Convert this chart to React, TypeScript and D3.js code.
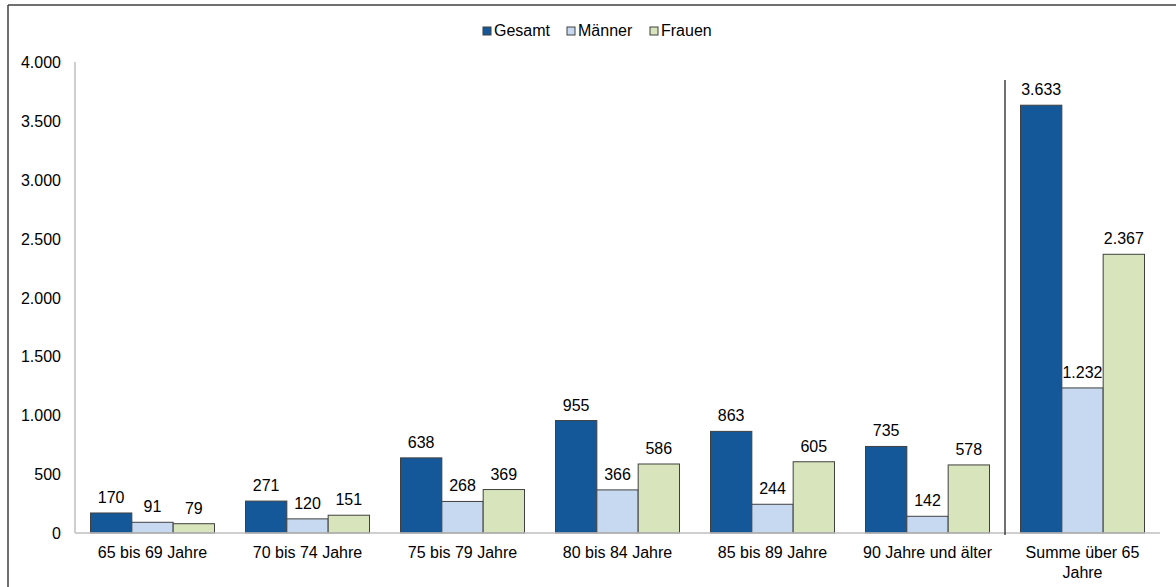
import React from "react";
import * as d3 from "d3";

const categories = [
  ["65 bis 69 Jahre"],
  ["70 bis 74 Jahre"],
  ["75 bis 79 Jahre"],
  ["80 bis 84 Jahre"],
  ["85 bis 89 Jahre"],
  ["90 Jahre und älter"],
  ["Summe über 65", "Jahre"],
];
const seriesNames = ["Gesamt", "Männer", "Frauen"];
const gesamt = [170, 271, 638, 955, 863, 735, 3633];
const maenner = [91, 120, 268, 366, 244, 142, 1232];
const frauen = [79, 151, 369, 586, 605, 578, 2367];
const yTicks = [0, 500, 1000, 1500, 2000, 2500, 3000, 3500, 4000];

const colors = ["#15589A", "#C6D9F0", "#D7E4BC"];
const W = 1176;
const H = 587;
const M = { left: 75, right: 1160, top: 62, bottom: 533 };

const fmt = (v: number) => d3.format(",")(v).replace(/,/g, ".");

export default function App() {
  const series = [gesamt, maenner, frauen];
  const x0 = d3
    .scaleBand<number>()
    .domain(categories.map((_, i) => i))
    .range([M.left, M.right])
    .paddingInner(0.2)
    .paddingOuter(0.1);
  const x1 = d3
    .scaleBand<number>()
    .domain([0, 1, 2])
    .range([0, x0.bandwidth()]);
  const y = d3.scaleLinear().domain([0, 4000]).range([M.bottom, M.top]);
  const font = "Liberation Sans, Arial, sans-serif";
  const fs = 16;
  const sepX = M.left + x0.step() * 6;

  const legendX = [483, 567, 650];

  return (
    <div style={{ position: "fixed", left: 0, top: 0 }}>
      <svg width={W} height={H} style={{ display: "block", background: "#fff" }} fontFamily={font}>
        {/* outer frame */}
        <line x1={8} x2={W} y1={5} y2={5} stroke="#404040" strokeWidth={1.5} />
        <line x1={8} x2={8} y1={5} y2={H} stroke="#404040" strokeWidth={1.5} />

        {/* legend */}
        {seriesNames.map((n, i) => (
          <g key={n}>
            <rect x={legendX[i]} y={27} width={8} height={8} fill={colors[i]} stroke="#404040" strokeWidth={1} />
            <text x={legendX[i] + 11} y={36} fontSize={fs} fill="#000">
              {n}
            </text>
          </g>
        ))}

        {/* y axis */}
        <line x1={M.left} x2={M.left} y1={M.top} y2={M.bottom} stroke="#BFBFBF" strokeWidth={1.5} />
        {yTicks.map((t) => (
          <text key={t} x={61} y={y(t) + 6} fontSize={fs} textAnchor="end" fill="#000">
            {fmt(t)}
          </text>
        ))}

        {/* bars */}
        {categories.map((_, ci) =>
          series.map((s, si) => {
            const bx = (x0(ci) as number) + (x1(si) as number);
            const bw = x1.bandwidth();
            const v = s[ci];
            return (
              <g key={`${ci}-${si}`}>
                <rect
                  x={bx}
                  y={y(v)}
                  width={bw}
                  height={M.bottom - y(v)}
                  fill={colors[si]}
                  stroke="#404040"
                  strokeWidth={1}
                />
                <text x={bx + bw / 2} y={y(v) - 10} fontSize={fs} textAnchor="middle" fill="#000">
                  {fmt(v)}
                </text>
              </g>
            );
          })
        )}

        {/* baseline */}
        <line x1={M.left} x2={M.right} y1={M.bottom} y2={M.bottom} stroke="#BFBFBF" strokeWidth={1.5} />

        {/* separator */}
        <line x1={sepX} x2={sepX} y1={80} y2={535} stroke="#404040" strokeWidth={1.5} />

        {/* category labels */}
        {categories.map((lines, ci) =>
          lines.map((l, li) => (
            <text
              key={`${ci}-${li}`}
              x={(x0(ci) as number) + x0.bandwidth() / 2}
              y={558 + li * 20}
              fontSize={fs}
              textAnchor="middle"
              fill="#000"
            >
              {l}
            </text>
          ))
        )}
      </svg>
    </div>
  );
}
